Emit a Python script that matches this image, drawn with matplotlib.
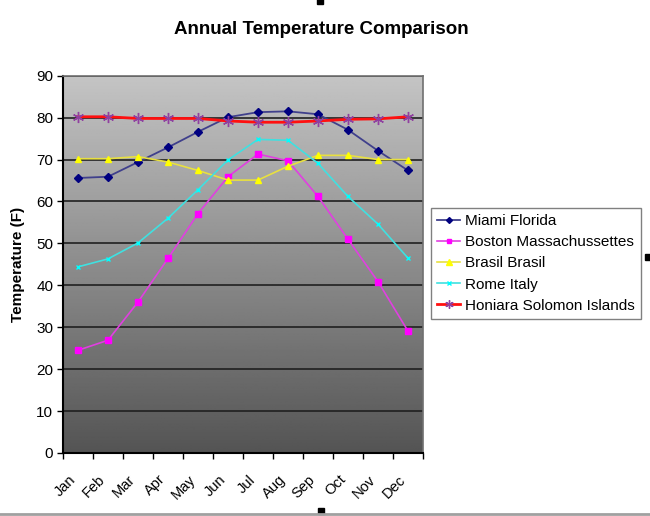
import numpy as np
import matplotlib
matplotlib.use('Agg')
import matplotlib.pyplot as plt
from matplotlib.patches import Rectangle
from matplotlib.lines import Line2D

plt.rcParams['font.family'] = ['Liberation Sans', 'DejaVu Sans']

months = ['Jan', 'Feb', 'Mar', 'Apr', 'May', 'Jun',
          'Jul', 'Aug', 'Sep', 'Oct', 'Nov', 'Dec']
miami = [65.6, 65.9, 69.4, 72.9, 76.6, 80.1, 81.3, 81.5, 80.8, 77.1, 72.1, 67.4]
boston = [24.5, 26.9, 36.0, 46.4, 57.1, 65.9, 71.3, 69.7, 61.2, 51.0, 40.9, 29.1]
brasil = [70.2, 70.2, 70.7, 69.4, 67.4, 65.1, 65.1, 68.4, 71.0, 71.0, 70.0, 70.0]
rome = [44.4, 46.3, 50.1, 56.0, 62.8, 69.9, 74.8, 74.6, 69.1, 61.2, 54.6, 46.5]
honiara = [80.2, 80.2, 79.8, 79.8, 79.8, 79.2, 78.9, 78.9, 79.2, 79.6, 79.7, 80.2]
yticks = list(range(0, 91, 10))

fig = plt.figure(figsize=(6.5, 5.16), dpi=100)
ax = fig.add_axes([0.0969, 0.1221, 0.5538, 0.7312])

x = np.arange(len(months))

# gradient background of the plot area
grad = np.linspace(0.77, 0.33, 256).reshape(-1, 1)
ax.imshow(grad, cmap='gray', vmin=0, vmax=1, aspect='auto',
          extent=[0, 1, 0, 1], transform=ax.transAxes, zorder=0)

ax.plot(x, miami, color='#40408c', lw=1.3, marker='D', ms=4,
        mfc='#000080', mec='#000080', label='Miami Florida', zorder=3)
ax.plot(x, boston, color='#e040e0', lw=1.2, marker='s', ms=4.5,
        mfc='#ff00ff', mec='#ff00ff', label='Boston Massachussettes', zorder=3)
ax.plot(x, brasil, color='#e8e040', lw=1.2, marker='^', ms=5,
        mfc='#ffff00', mec='#ffff00', label='Brasil Brasil', zorder=3)
ax.plot(x, rome, color='#40e0e0', lw=1.2, marker='x', ms=3,
        mec='#00ffff', label='Rome Italy', zorder=3)
ax.plot(x, honiara, color='#ff1010', lw=2.0, marker=(6, 2, 0), ms=8,
        mec='#9040a0', mew=1.0, label='Honiara Solomon Islands', zorder=4)

ax.set_xlim(-0.5, 11.5)
ax.set_ylim(0, 90)
ax.set_yticks(yticks)
ax.set_yticklabels([str(v) for v in yticks], fontsize=11)
ax.set_xticks(np.arange(-0.5, 12, 1))
ax.set_xticklabels([])
# slanted month labels, placed a little left of each category centre
for xi, m in zip(x, months):
    ax.annotate(m, xy=(xi, 0), xycoords=ax.get_xaxis_transform(),
                xytext=(-7, -14), textcoords='offset points',
                rotation=45, ha='right', va='top', rotation_mode='anchor',
                fontsize=10.5, annotation_clip=False)
ax.tick_params(axis='both', which='major', length=4, width=1, direction='out',
               color='black')
ax.tick_params(axis='y', pad=3)
ax.grid(axis='y', color='#202020', lw=1.2, zorder=1)
ax.set_axisbelow(True)

for side in ['left', 'bottom']:
    ax.spines[side].set_color('black')
    ax.spines[side].set_linewidth(1.5)
for side in ['top', 'right']:
    ax.spines[side].set_color('#707070')
    ax.spines[side].set_linewidth(1.2)

ax.set_ylabel('Temperature (F)', fontsize=11, fontweight='bold', labelpad=8)
fig.text(0.494, 0.943, 'Annual Temperature Comparison', ha='center',
         va='center', fontsize=13.5, fontweight='bold')

leg = fig.legend(loc='upper left', bbox_to_anchor=(0.663, 0.597),
                 fontsize=11, frameon=True, fancybox=False, markerscale=0.75,
                 edgecolor='#606060', handlelength=1.5, handletextpad=0.35,
                 borderpad=0.4, labelspacing=0.47, borderaxespad=0)
leg.get_frame().set_linewidth(1.0)

# chart frame handles and bottom edge
fig.add_artist(Line2D([0, 1], [2.5 / 516, 2.5 / 516], color='#a0a0a0', lw=2))
for hx, hy in [(320, 1), (648, 257), (321, 511)]:
    fig.add_artist(Rectangle(((hx - 3) / 650, (516 - hy - 3) / 516),
                             6 / 650, 6 / 516, color='black'))

fig.savefig('out.png', dpi=100)
